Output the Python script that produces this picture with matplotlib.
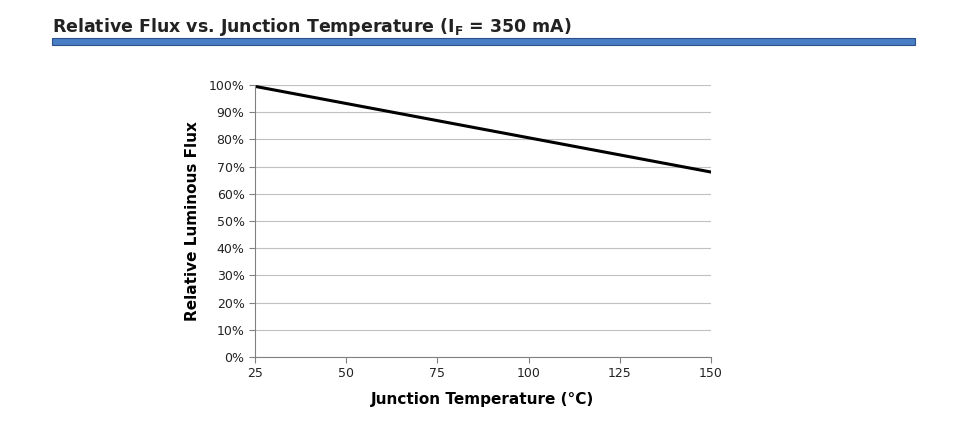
import matplotlib
matplotlib.use("Agg")
import matplotlib.pyplot as plt
from matplotlib.patches import Rectangle
from matplotlib.ticker import PercentFormatter

temps = [25, 150]
flux = [99.5, 68]
xticks = [25, 50, 75, 100, 125, 150]
yticks = [0, 10, 20, 30, 40, 50, 60, 70, 80, 90, 100]

fig = plt.figure(figsize=(9.63, 4.33), dpi=100)
fig.patch.set_facecolor("white")

# title and blue rule
fig.text(52/963, 1-27/433, r"Relative Flux vs. Junction Temperature (I$_\mathbf{F}$ = 350 mA)",
         fontsize=12.5, fontweight="bold", color="#222222", va="center", ha="left")
fig.patches.append(Rectangle((52/963, 1-45/433), 863/963, 7/433, transform=fig.transFigure,
                             facecolor="#4a7ec4", edgecolor="#2a4f8a", linewidth=0.8))

ax = fig.add_axes([255/963, 1-357/433, 456/963, 272/433])
ax.plot(temps, flux, color="black", linewidth=2.2)
ax.set_xlim(25, 150)
ax.set_ylim(0, 100)
ax.set_xticks(xticks)
ax.set_yticks(yticks)
ax.yaxis.set_major_formatter(PercentFormatter(decimals=0))
ax.grid(axis="y", color="#c0c0c0", linewidth=0.8)
ax.set_axisbelow(True)
for s in ["top", "right"]:
    ax.spines[s].set_visible(False)
for s in ["left", "bottom"]:
    ax.spines[s].set_color("#808080")
ax.tick_params(labelsize=9, colors="#222222", length=4, color="#808080")
ax.set_xlabel("Junction Temperature (°C)", fontsize=11, fontweight="bold", labelpad=8)
ax.set_ylabel("Relative Luminous Flux", fontsize=11, fontweight="bold", labelpad=6)

fig.savefig("out.png", dpi=100)
